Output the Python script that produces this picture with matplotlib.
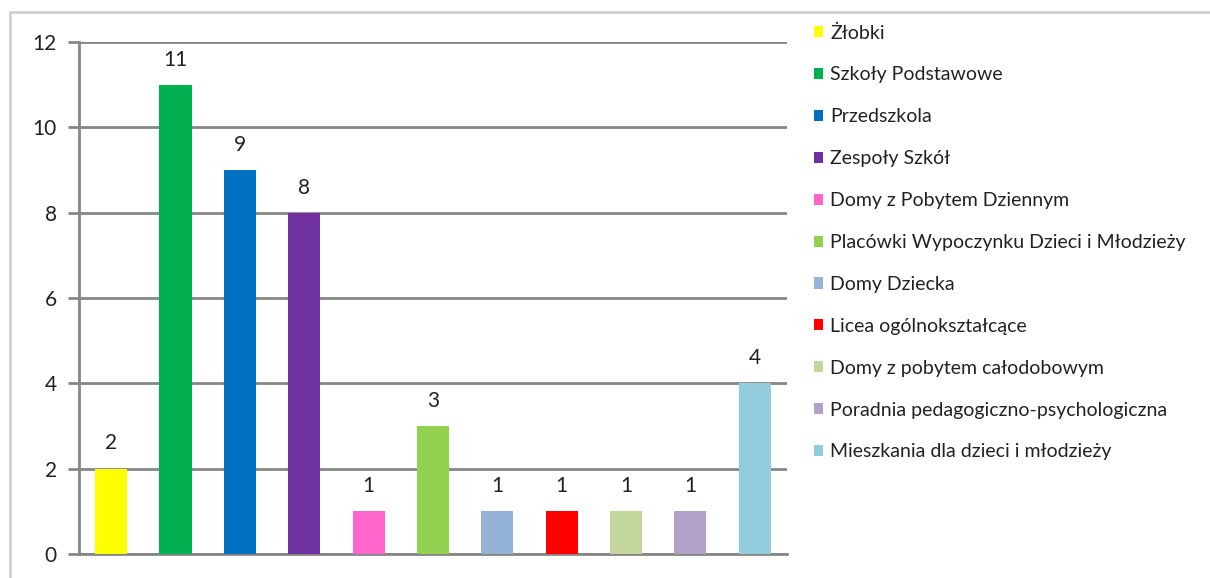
import matplotlib.pyplot as plt
from matplotlib.patches import Rectangle

# --- Dane ---
kategorie = ["Żłobki", "Szkoły Podstawowe", "Przedszkola", "Zespoły Szkół",
             "Domy z Pobytem Dziennym", "Placówki Wypoczynku Dzieci i Młodzieży",
             "Domy Dziecka", "Licea ogólnokształcące", "Domy z pobytem całodobowym",
             "Poradnia pedagogiczno-psychologiczna", "Mieszkania dla dzieci i młodzieży"]
wartosci = [2, 11, 9, 8, 1, 3, 1, 1, 1, 1, 4]
kolory = ["#FFFF00", "#00B050", "#0070C0", "#7030A0", "#FF66CC", "#92D050",
          "#95B3D7", "#FF0000", "#C3D69B", "#B3A2C7", "#93CDDD"]

plt.rcParams['font.family'] = ['Lato', 'DejaVu Sans']

fig = plt.figure(figsize=(12.1, 5.78), dpi=100)
ax = fig.add_axes([0.0653, 0.0415, 0.585, 0.8855])

# ramka wykresu
fig.patches.append(Rectangle((10 / 1210, -0.01), 1.02, 1 - 12 / 578 + 0.01,
                             transform=fig.transFigure, fill=False,
                             edgecolor="#D0D0D0", linewidth=2))

x = list(range(len(wartosci)))
bars = ax.bar(x, wartosci, width=0.5, color=kolory, zorder=3)
for xi, v in zip(x, wartosci):
    ax.annotate(str(v), (xi, v), xytext=(0, 11), textcoords="offset points",
                ha="center", va="bottom", fontsize=15, color="#222222")

ax.set_xlim(-0.5, len(wartosci) - 0.5)
ax.set_ylim(0, 12)
ax.set_yticks(range(0, 13, 2))
ax.set_xticks([])
ax.grid(axis="y", color="#868686", linewidth=2, zorder=0)
for s in ["top", "right"]:
    ax.spines[s].set_visible(False)
ax.spines["left"].set_color("#868686")
ax.spines["left"].set_linewidth(2)
ax.spines["bottom"].set_color("#868686")
ax.spines["bottom"].set_linewidth(2)
ax.tick_params(axis="y", length=8, width=2, color="#868686",
               labelsize=15, labelcolor="#222222", pad=8)

leg = ax.legend(bars, kategorie, loc="upper left", bbox_to_anchor=(0.658, 0.988),
                bbox_transform=fig.transFigure, frameon=False, fontsize=14,
                handlelength=0.5, handleheight=0.5, handletextpad=0.35,
                labelspacing=1.28, labelcolor="#222222")

fig.savefig("out.png", dpi=100)
